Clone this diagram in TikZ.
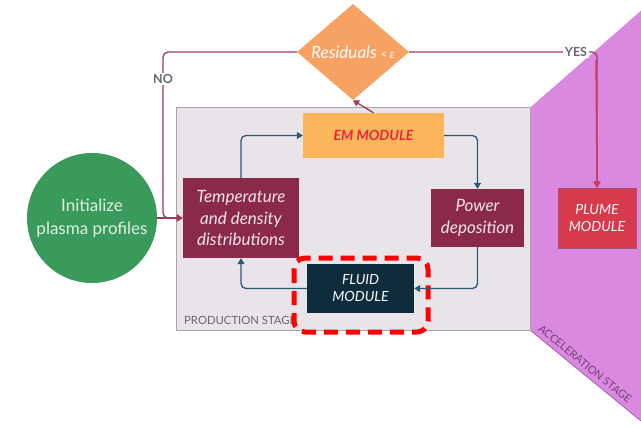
\documentclass[tikz,border=0pt]{standalone}
\usepackage{fontspec}
\setmainfont{Lato}
\usetikzlibrary{arrows.meta,shapes.geometric}
\definecolor{stagegray}{HTML}{E8E4E9}
\definecolor{stageedge}{HTML}{A8A4A8}
\definecolor{accpurple}{HTML}{DA88E0}
\definecolor{accedge}{HTML}{A85CB0}
\definecolor{initgreen}{HTML}{3A9A5C}
\definecolor{inittext}{HTML}{DDF2DD}
\definecolor{maroonbox}{HTML}{8A2A48}
\definecolor{emfill}{HTML}{FDB55C}
\definecolor{emtext}{HTML}{E8283A}
\definecolor{fluidfill}{HTML}{0E2C3C}
\definecolor{plumefill}{HTML}{D63A4C}
\definecolor{diafill}{HTML}{F7A262}
\definecolor{loopline}{HTML}{A33A55}
\definecolor{yesline}{HTML}{D03A58}
\definecolor{tealline}{HTML}{2C5A70}
\definecolor{labelgray}{HTML}{6A6570}
\definecolor{boxtext}{HTML}{F2E4EA}
\tikzset{
  modbox/.style={draw=none, align=center, inner sep=0pt, text=boxtext,
    font=\itshape\fontsize{17}{21.5}\selectfont},
  capsbox/.style={draw=none, align=center, inner sep=0pt,
    font=\itshape\fontsize{14}{17}\selectfont},
  loop/.style={draw=loopline, line width=1.3pt, rounded corners=5pt},
  teal/.style={draw=tealline, line width=1.3pt, rounded corners=5pt},
  tip/.style={-{Triangle[length=6pt,width=7pt]}},
  branch/.style={fill=white, inner sep=1.5pt, text=labelgray,
    font=\bfseries\fontsize{12.5}{14}\selectfont},
}
\begin{document}
\begin{tikzpicture}[x=1pt,y=-1pt]
\useasboundingbox (0,0) rectangle (641,429);

% acceleration stage band
\fill[accpurple] (530,107) -- (641,10) -- (641,421) -- (530,330) -- cycle;
\draw[accedge, line width=0.8pt] (530,330) -- (641,421);
\draw[white, line width=0.8pt] (530,107) -- (641,10);
\node[rotate=-39.3, text=accedge!70!black, font=\fontsize{11}{13}\selectfont, inner sep=0pt]
  (acclabel) at (585,364) {ACCELERATION STAGE};

% production stage panel
\node[draw=stageedge, fill=stagegray, line width=0.8pt, minimum width=354pt,
  minimum height=223pt, inner sep=0pt] (prod) at (353,218.5) {};
\node[anchor=west, text=labelgray, inner sep=0pt,
  font=\fontsize{11.3}{13}\selectfont] (prodlabel) at (184,320) {PRODUCTION STAGE};

% nodes
\node[circle, fill=initgreen, minimum size=130pt, inner sep=0pt, align=center,
  text=inittext, font=\fontsize{17}{23}\selectfont] (init) at (92,218)
  {Initialize\\plasma profiles};

\node[modbox, fill=maroonbox, minimum width=116pt, minimum height=80pt]
  (temp) at (241,218) {Temperature\\and density\\distributions};
\node[capsbox, fill=emfill, text=emtext, font=\bfseries\itshape\fontsize{14}{17}\selectfont,
  minimum width=141pt, minimum height=45pt]
  (em) at (373.5,135.5) {EM MODULE};
\node[modbox, fill=maroonbox, minimum width=93pt, minimum height=58pt]
  (power) at (477.5,218) {Power\\deposition};
\node[capsbox, fill=fluidfill, text=white, minimum width=107pt, minimum height=49pt]
  (fluid) at (360.5,288.5) {FLUID\\MODULE};
\node[capsbox, fill=plumefill, text=white,
  draw=maroonbox!80, line width=0.6pt, minimum width=78pt, minimum height=60pt]
  (plume) at (597,218) {PLUME\\MODULE};
\node[diamond, fill=diafill, minimum width=112pt, minimum height=79pt, inner sep=0pt,
  text=white, font=\itshape\fontsize{17}{19}\selectfont]
  (dia) at (353,52) {Residuals {\fontsize{12}{14}\selectfont<\,ε}};

% highlight around the fluid module
\draw[red, line width=5pt, dash pattern=on 14pt off 8pt, rounded corners=11pt]
  (294,258) rectangle (428,332);

% convergence loop
\coordinate (nox) at (163,52);
\draw[loop, tip] (init.east) -- (temp.west);
\draw[loop, tip] (dia.west) -- (nox) -- (nox |- temp.west) -- (temp.west);
\node[branch] (nolabel) at (163,79) {NO};
\draw[loop, tip] (dia.east) -| (plume.north);
\draw[yesline, line width=1.3pt, tip] (596,60) -- (plume.north);
\node[branch] (yeslabel) at (576,52) {YES};
\draw[loop, rounded corners=0pt, tip] (em.north) -- (dia.south);

% production loop
\draw[teal, tip] (temp.north) |- (em.west);
\draw[teal, tip] (em.east) -| (power.north);
\draw[teal, tip] (power.south) |- (fluid.east);
\draw[teal, tip] (fluid.west) -| (temp.south);
\end{tikzpicture}
\end{document}
